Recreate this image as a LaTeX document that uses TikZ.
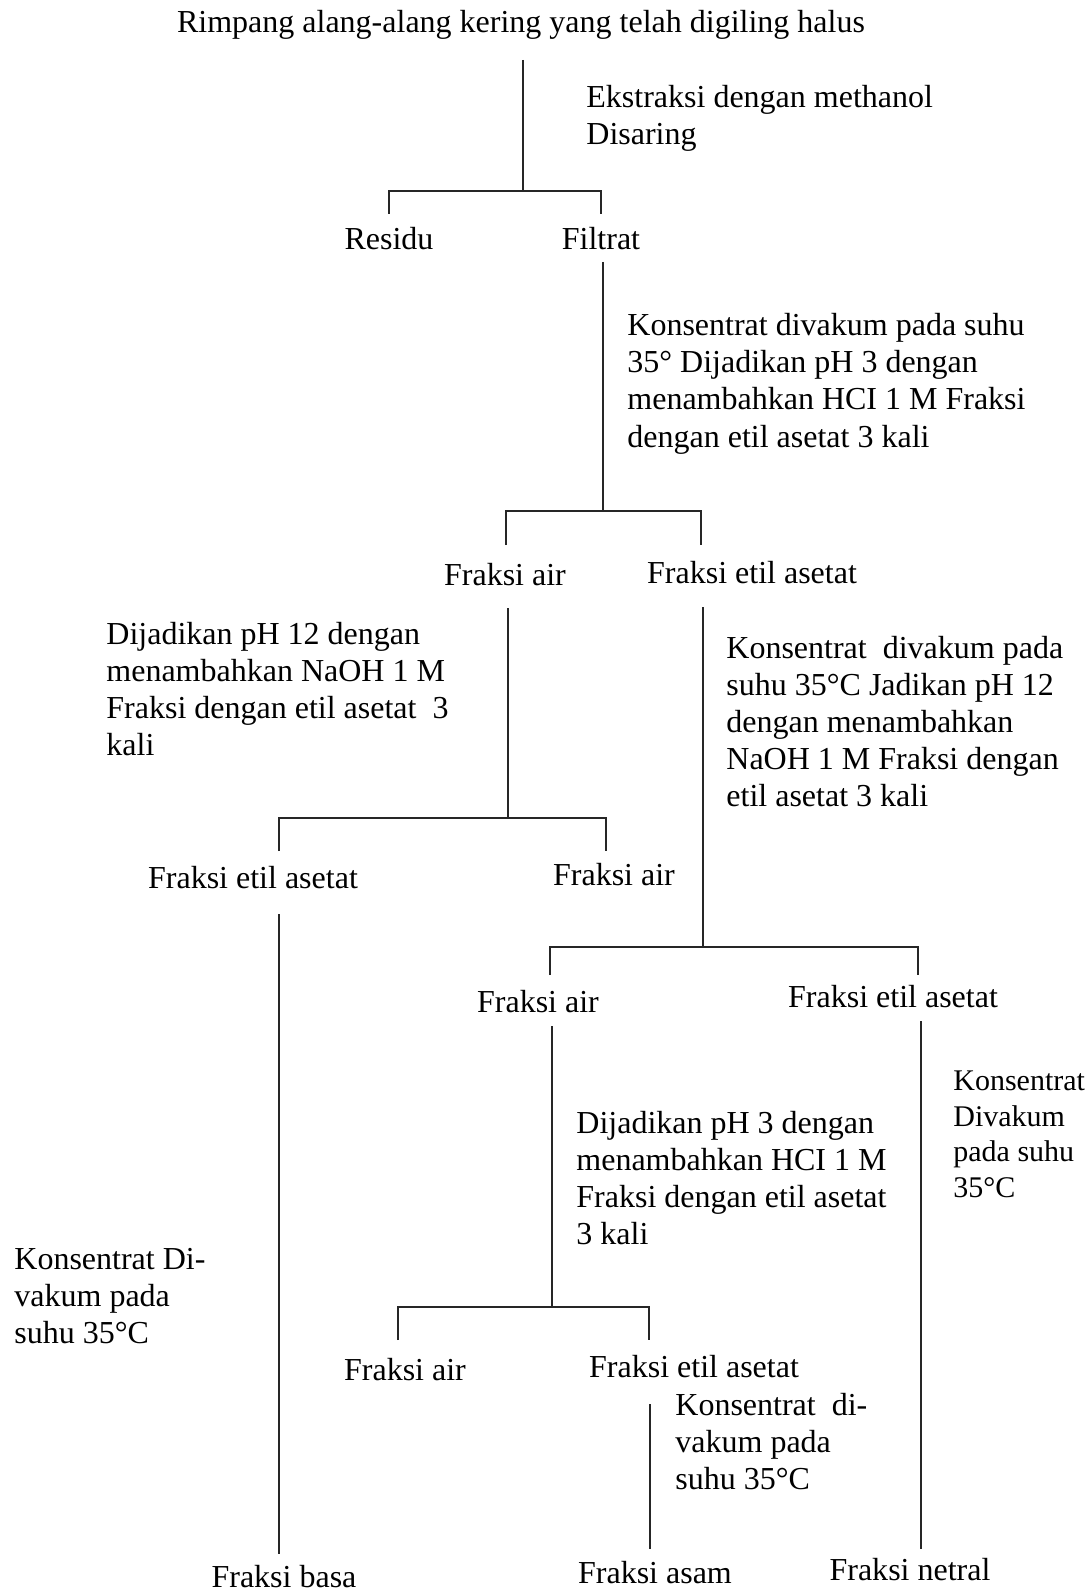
\documentclass[tikz,border=0pt]{standalone}
\usepackage{fontspec}
\setmainfont{Liberation Serif}
\begin{document}
\begin{tikzpicture}[x=0.5pt,y=-0.5pt,
  txt/.style={inner sep=0pt,anchor=base,font=\fontsize{16}{18.5}\selectfont},
  lbl/.style={inner sep=0pt,anchor=base west,align=left,font=\fontsize{16}{18.5}\selectfont},
  ln/.style={line width=1.1pt,black!85}]
\useasboundingbox (0,0) rectangle (1091,1593);
% nodes (multi-line labels are anchored at the baseline of their last line)
\node[txt] (top) at (521,33) {Rimpang alang-alang kering yang telah digiling halus};
\node[lbl] (l1) at (586,145) {Ekstraksi dengan methanol\\Disaring};
\node[txt] (res) at (389,250) {Residu};
\node[txt] (fil) at (601,250) {Filtrat};
\node[lbl] (l2) at (627,447) {Konsentrat divakum pada suhu\\35° Dijadikan pH 3 dengan\\menambahkan HCI 1 M Fraksi\\dengan etil asetat 3 kali};
\node[txt] (fa1) at (505,585) {Fraksi air};
\node[txt] (fe1) at (752,583) {Fraksi etil asetat};
\node[lbl] (l3) at (106,755) {Dijadikan pH 12 dengan\\menambahkan NaOH 1 M\\Fraksi dengan etil asetat~ 3\\kali};
\node[lbl] (l4) at (726,806) {Konsentrat~ divakum pada\\suhu 35°C Jadikan pH 12\\dengan menambahkan\\NaOH 1 M Fraksi dengan\\etil asetat 3 kali};
\node[txt] (fe2) at (253,888) {Fraksi etil asetat};
\node[txt] (fa2) at (614,885) {Fraksi air};
\node[txt] (fa3) at (538,1012) {Fraksi air};
\node[txt] (fe3) at (893,1007) {Fraksi etil asetat};
\node[lbl,font=\fontsize{15}{17.7}\selectfont] (l7) at (953,1197) {Konsentrat\\Divakum\\pada suhu\\35°C};
\node[lbl] (l5) at (576,1244) {Dijadikan pH 3 dengan\\menambahkan HCI 1 M\\Fraksi dengan etil asetat\\3 kali};
\node[lbl] (l6) at (14,1343) {Konsentrat Di-\\vakum pada\\suhu 35°C};
\node[txt] (fa4) at (405,1380) {Fraksi air};
\node[txt] (fe4) at (694,1377) {Fraksi etil asetat};
\node[lbl] (l8) at (675,1489) {Konsentrat~ di-\\vakum pada\\suhu 35°C};
\node[txt] (basa) at (284,1587) {Fraksi basa};
\node[txt] (asam) at (655,1583) {Fraksi asam};
\node[txt] (netral) at (910,1580) {Fraksi netral};
% junction coordinates
\coordinate (s0) at (523,60);   \coordinate (j0) at (523,191);
\coordinate (t0a) at (389,214); \coordinate (t0b) at (601,214);
\coordinate (s1) at (603,262);  \coordinate (j1) at (603,511);
\coordinate (t1a) at (506,545); \coordinate (t1b) at (701,545);
\coordinate (s2) at (508,608);  \coordinate (j2) at (508,818);
\coordinate (t2a) at (279,851); \coordinate (t2b) at (606,851);
\coordinate (s3) at (703,607);  \coordinate (j3) at (703,947);
\coordinate (t3a) at (550,975); \coordinate (t3b) at (918,975);
\coordinate (s4) at (552,1026); \coordinate (j4) at (552,1307);
\coordinate (t4a) at (398,1340);\coordinate (t4b) at (649,1340);
\coordinate (s5) at (279,914);  \coordinate (e5) at (279,1554);
\coordinate (s6) at (650,1404); \coordinate (e6) at (650,1549);
\coordinate (s7) at (921,1021); \coordinate (e7) at (921,1549);
% connectors
\draw[ln] (s0) -- (j0);
\draw[ln] (t0a) |- (j0) -| (t0b);
\draw[ln] (s1) -- (j1);
\draw[ln] (t1a) |- (j1) -| (t1b);
\draw[ln] (s2) -- (j2);
\draw[ln] (t2a) |- (j2) -| (t2b);
\draw[ln] (s3) -- (j3);
\draw[ln] (t3a) |- (j3) -| (t3b);
\draw[ln] (s4) -- (j4);
\draw[ln] (t4a) |- (j4) -| (t4b);
\draw[ln] (s5) -- (e5);
\draw[ln] (s6) -- (e6);
\draw[ln] (s7) -- (e7);
\end{tikzpicture}
\end{document}
